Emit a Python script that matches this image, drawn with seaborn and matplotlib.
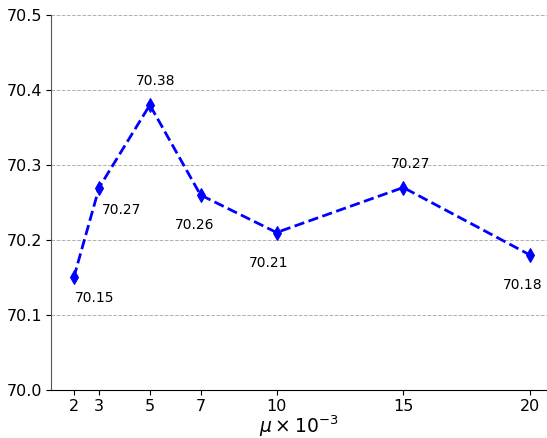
import matplotlib
matplotlib.use("Agg")
import matplotlib.pyplot as plt
import seaborn as sns
import pandas as pd

mu = [2, 3, 5, 7, 10, 15, 20]
acc = [70.15, 70.27, 70.38, 70.26, 70.21, 70.27, 70.18]
label_offsets = [(21, -21), (22, -22), (6, 24), (-6, -30), (-8, -30), (7, 23), (-7, -30)]
yticks = [70.0, 70.1, 70.2, 70.3, 70.4, 70.5]

sns.set_style("ticks", {"text.color": "black", "axes.labelcolor": "black",
                        "xtick.color": "black", "ytick.color": "black"})
plt.rcParams['font.family'] = ['DejaVu Sans']

fig = plt.figure(figsize=(5.47, 4.38), dpi=100)
ax = fig.add_axes([51/547, 48/438, 1 - 51/547, 375/438])

df = pd.DataFrame({"mu": mu, "acc": acc})
sns.lineplot(data=df, x="mu", y="acc", ax=ax, color="blue", marker="d",
             markersize=7, linewidth=2, linestyle="--", markeredgecolor="blue")

for x, y, (dx, dy) in zip(mu, acc, label_offsets):
    ax.annotate(f"{y:.2f}", (x, y), xytext=(dx, dy), textcoords="offset pixels",
                ha="center", va="center", fontsize=10, color="black")

ax.set_xlim(1.1, 20.67)
ax.set_ylim(70.0, 70.5)
ax.set_xticks(mu)
ax.set_yticks(yticks)
ax.set_yticklabels([f"{v:.1f}" for v in yticks])
ax.tick_params(labelsize=11.5, pad=3, colors="black")
ax.yaxis.grid(True, linestyle="--", color="#b0b0b0", linewidth=0.7)
ax.set_axisbelow(True)
ax.set_xlabel(r"$\mu \times 10^{-3}$", fontsize=13.5, labelpad=-0.5, color="black")
ax.set_ylabel("")
for s in ["top", "right"]:
    ax.spines[s].set_visible(False)
ax.spines["left"].set_color("#555555")
ax.spines["bottom"].set_color("black")

fig.savefig("out.png", dpi=100)
